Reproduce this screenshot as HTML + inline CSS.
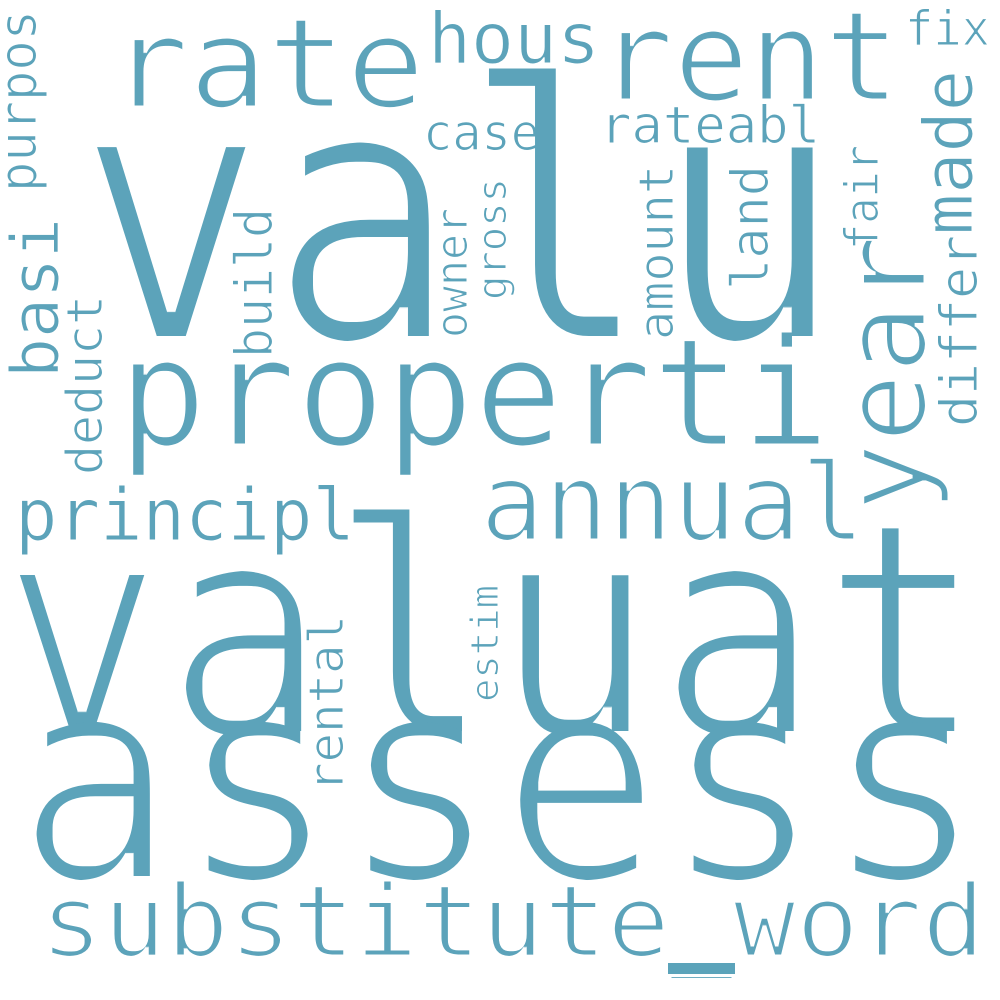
<!DOCTYPE html>
<html><head><meta charset="utf-8"><style>
html,body{margin:0;padding:0;background:#fff;width:1000px;height:1000px;overflow:hidden}
svg text{font-family:"DejaVu Sans Mono","Liberation Mono",monospace;fill:#5ba3ba}
</style></head><body>
<svg width="1000" height="1000" viewBox="0 0 1000 1000" xmlns="http://www.w3.org/2000/svg">
<defs>
<filter id="eL" x="-5%" y="-5%" width="110%" height="110%"><feMorphology operator="erode" radius="4"/></filter>
<filter id="eM" x="-5%" y="-5%" width="110%" height="110%"><feMorphology operator="erode" radius="1.4"/></filter>
<filter id="eS" x="-5%" y="-5%" width="110%" height="110%"><feMorphology operator="erode" radius="0.6"/></filter>
</defs>
<text filter="url(#eL)" x="75" y="340" font-size="360" textLength="770" lengthAdjust="spacingAndGlyphs">valu</text>
<text filter="url(#eL)" x="0" y="735" font-size="300" textLength="985" lengthAdjust="spacingAndGlyphs">valuat</text>
<text filter="url(#eL)" x="15" y="880" font-size="290" textLength="970" lengthAdjust="spacingAndGlyphs">assess</text>
<text filter="url(#eM)" x="40" y="956" font-size="100" textLength="945" lengthAdjust="spacingAndGlyphs">substitute_word</text>
<rect x="668" y="963" width="67" height="11" fill="#5ba3ba"/>
<text filter="url(#eM)" x="110" y="107" font-size="125" textLength="315" lengthAdjust="spacingAndGlyphs">rate</text>
<text filter="url(#eM)" x="598" y="100" font-size="125" textLength="302" lengthAdjust="spacingAndGlyphs">rent</text>
<text filter="url(#eS)" x="428" y="63" font-size="70" textLength="172" lengthAdjust="spacingAndGlyphs">hous</text>
<text filter="url(#eS)" x="905" y="45" font-size="48" textLength="85" lengthAdjust="spacingAndGlyphs">fix</text>
<text filter="url(#eM)" x="118" y="445" font-size="150" textLength="712" lengthAdjust="spacingAndGlyphs">properti</text>
<text filter="url(#eM)" x="480" y="540" font-size="108" textLength="385" lengthAdjust="spacingAndGlyphs">annual</text>
<text filter="url(#eS)" x="15" y="540" font-size="72" textLength="340" lengthAdjust="spacingAndGlyphs">principl</text>
<text filter="url(#eS)" x="423" y="150" font-size="50" textLength="117" lengthAdjust="spacingAndGlyphs">case</text>
<text filter="url(#eS)" x="600" y="143" font-size="52" textLength="220" lengthAdjust="spacingAndGlyphs">rateabl</text>

<text filter="url(#eS)" transform="translate(36,192) rotate(-90)" font-size="52" textLength="182" lengthAdjust="spacingAndGlyphs">purpos</text>
<text filter="url(#eS)" transform="translate(58,378) rotate(-90)" font-size="66" textLength="160" lengthAdjust="spacingAndGlyphs">basi</text>
<text filter="url(#eS)" transform="translate(102,475) rotate(-90)" font-size="50" textLength="180" lengthAdjust="spacingAndGlyphs">deduct</text>
<text filter="url(#eS)" transform="translate(272,358) rotate(-90)" font-size="52" textLength="150" lengthAdjust="spacingAndGlyphs">build</text>
<text filter="url(#eS)" transform="translate(467,338) rotate(-90)" font-size="44" textLength="130" lengthAdjust="spacingAndGlyphs">owner</text>
<text filter="url(#eS)" transform="translate(506,300) rotate(-90)" font-size="40" textLength="122" lengthAdjust="spacingAndGlyphs">gross</text>
<text filter="url(#eS)" transform="translate(673,340) rotate(-90)" font-size="48" textLength="175" lengthAdjust="spacingAndGlyphs">amount</text>
<text filter="url(#eS)" transform="translate(768,290) rotate(-90)" font-size="52" textLength="125" lengthAdjust="spacingAndGlyphs">land</text>
<text filter="url(#eS)" transform="translate(878,250) rotate(-90)" font-size="46" textLength="105" lengthAdjust="spacingAndGlyphs">fair</text>
<text filter="url(#eS)" transform="translate(972,235) rotate(-90)" font-size="68" textLength="165" lengthAdjust="spacingAndGlyphs">made</text>
<text filter="url(#eS)" transform="translate(977,427) rotate(-90)" font-size="52" textLength="192" lengthAdjust="spacingAndGlyphs">differ</text>
<text filter="url(#eM)" transform="translate(925,512) rotate(-90)" font-size="114" textLength="277" lengthAdjust="spacingAndGlyphs">year</text>
<text filter="url(#eS)" transform="translate(343,792) rotate(-90)" font-size="48" textLength="177" lengthAdjust="spacingAndGlyphs">rental</text>
<text filter="url(#eS)" transform="translate(498,702) rotate(-90)" font-size="38" textLength="117" lengthAdjust="spacingAndGlyphs">estim</text>
</svg>
</body></html>
